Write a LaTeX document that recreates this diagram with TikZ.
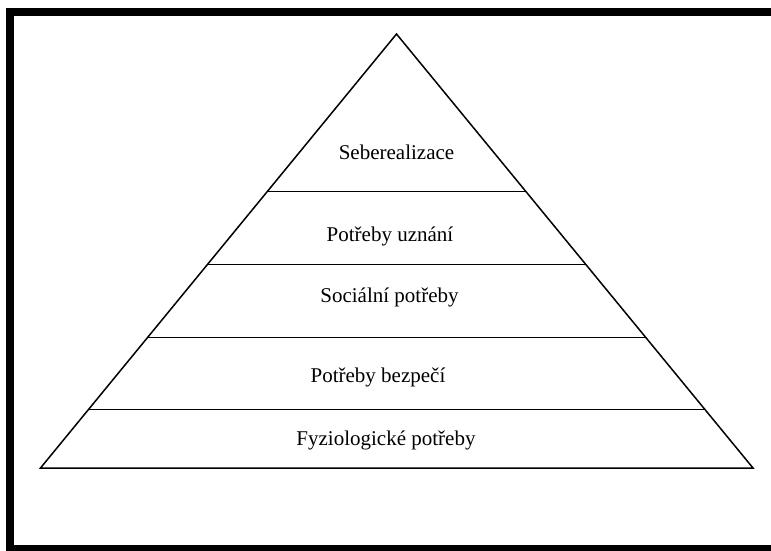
\documentclass[tikz,border=0pt]{standalone}
\usepackage{fontspec}
\setmainfont{Liberation Serif}
\begin{document}
\begin{tikzpicture}[x=1pt,y=-1pt,
  lbl/.style={inner sep=0pt,font=\fontsize{21}{25}\selectfont},
  side/.style={line width=1.5pt,line join=miter},
  tier/.style={line width=1pt}]
\useasboundingbox (0,0) rectangle (771,550);
\clip (0,0) rectangle (771,550);
\draw[line width=8pt] (10,12) rectangle (780,549);
\coordinate (apex) at (396.5,34);
\coordinate (bl) at (40.5,468);
\coordinate (br) at (753,468);
\draw[side] (bl) -- (apex) -- (br) -- cycle;
\foreach \yy/\nm in {191/a,264/b,337/c,409/d}{
  \path (bl) -- (apex) coordinate[pos={(468-\yy)/434}] (L\nm);
  \path (br) -- (apex) coordinate[pos={(468-\yy)/434}] (R\nm);
  \draw[tier] (L\nm) -- (R\nm);
}
\node[lbl] (t1) at (396.5,152) {Seberealizace};
\node[lbl] (t2) at (390,236) {Potřeby uznání};
\node[lbl] (t3) at (389.5,297) {Sociální potřeby};
\node[lbl] (t4) at (378,377) {Potřeby bezpečí};
\node[lbl] (t5) at (386,440) {Fyziologické potřeby};
\end{tikzpicture}
\end{document}
